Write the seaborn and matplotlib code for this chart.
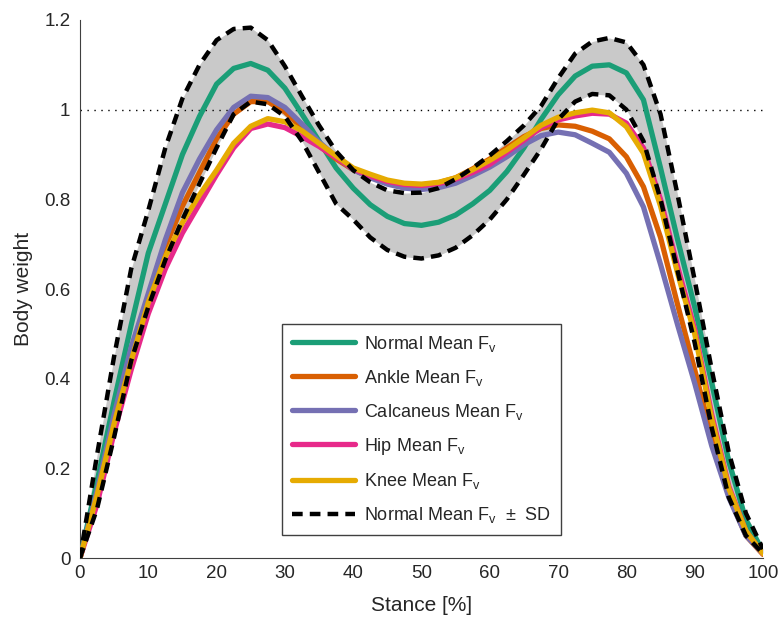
import matplotlib
matplotlib.use('Agg')
import matplotlib.pyplot as plt
import seaborn as sns
from matplotlib.lines import Line2D
from matplotlib.ticker import FormatStrFormatter

# Stance phase [%] and vertical force (body weight)
stance = [0, 2.5, 5, 7.5, 10, 12.5, 15, 17.5, 20, 22.5, 25, 27.5, 30, 32.5, 35, 37.5,
          40, 42.5, 45, 47.5, 50, 52.5, 55, 57.5, 60, 62.5, 65, 67.5, 70, 72.5, 75,
          77.5, 80, 82.5, 85, 87.5, 90, 92.5, 95, 97.5, 100]

normal_mean = [0.0, 0.17, 0.35, 0.52, 0.68, 0.79, 0.90, 0.985, 1.057, 1.092, 1.103,
               1.088, 1.048, 0.99, 0.93, 0.87, 0.825, 0.788, 0.762, 0.746, 0.742,
               0.749, 0.765, 0.79, 0.82, 0.862, 0.915, 0.978, 1.033, 1.075, 1.097,
               1.10, 1.082, 1.022, 0.87, 0.71, 0.56, 0.39, 0.215, 0.085, 0.015]

normal_upper = [0.0, 0.23, 0.45, 0.645, 0.775, 0.915, 1.025, 1.10, 1.155, 1.18, 1.183,
                1.155, 1.097, 1.03, 0.965, 0.907, 0.865, 0.838, 0.82, 0.814, 0.815,
                0.825, 0.845, 0.87, 0.898, 0.93, 0.965, 1.008, 1.07, 1.125, 1.152,
                1.16, 1.15, 1.10, 0.99, 0.81, 0.62, 0.42, 0.235, 0.10, 0.02]

normal_lower = [0.0, 0.11, 0.27, 0.44, 0.56, 0.665, 0.755, 0.835, 0.915, 0.99, 1.018,
                1.012, 0.985, 0.93, 0.86, 0.79, 0.755, 0.715, 0.687, 0.672, 0.668,
                0.675, 0.692, 0.72, 0.755, 0.80, 0.855, 0.912, 0.978, 1.018, 1.035,
                1.032, 1.0, 0.93, 0.80, 0.64, 0.48, 0.29, 0.135, 0.05, 0.01]

ankle_mean = [0.0, 0.14, 0.30, 0.45, 0.575, 0.695, 0.785, 0.86, 0.935, 0.99, 1.018,
              1.018, 0.995, 0.96, 0.92, 0.89, 0.866, 0.85, 0.838, 0.832, 0.832,
              0.837, 0.848, 0.868, 0.89, 0.915, 0.94, 0.958, 0.966, 0.963, 0.952,
              0.935, 0.895, 0.828, 0.715, 0.565, 0.42, 0.27, 0.14, 0.05, 0.008]

calcaneus_mean = [0.0, 0.15, 0.32, 0.47, 0.59, 0.71, 0.815, 0.89, 0.955, 1.005, 1.03,
                  1.027, 1.005, 0.968, 0.928, 0.895, 0.866, 0.848, 0.834, 0.825, 0.822,
                  0.826, 0.836, 0.853, 0.872, 0.895, 0.922, 0.942, 0.95, 0.944, 0.925,
                  0.905, 0.858, 0.783, 0.655, 0.52, 0.39, 0.25, 0.135, 0.05, 0.01]

hip_mean = [0.0, 0.12, 0.28, 0.42, 0.545, 0.645, 0.725, 0.79, 0.855, 0.915, 0.958,
            0.968, 0.96, 0.94, 0.918, 0.893, 0.868, 0.852, 0.84, 0.833, 0.831,
            0.835, 0.845, 0.86, 0.878, 0.905, 0.932, 0.96, 0.977, 0.986, 0.992,
            0.99, 0.97, 0.915, 0.80, 0.65, 0.51, 0.32, 0.16, 0.06, 0.01]

knee_mean = [0.0, 0.14, 0.30, 0.44, 0.57, 0.672, 0.748, 0.81, 0.865, 0.925, 0.963,
             0.98, 0.973, 0.953, 0.925, 0.897, 0.87, 0.856, 0.843, 0.836, 0.834,
             0.838, 0.848, 0.866, 0.887, 0.91, 0.937, 0.965, 0.983, 0.993, 0.999,
             0.993, 0.962, 0.903, 0.785, 0.635, 0.50, 0.31, 0.155, 0.06, 0.01]

series = [
    ('Normal', normal_mean, '#1b9e77'),
    ('Ankle', ankle_mean, '#d95f02'),
    ('Calcaneus', calcaneus_mean, '#7570b3'),
    ('Hip', hip_mean, '#e7298a'),
    ('Knee', knee_mean, '#e6ab02'),
]

sns.set_style('white')
plt.rcParams['font.family'] = ['Liberation Sans', 'DejaVu Sans']
plt.rcParams['mathtext.fontset'] = 'custom'
plt.rcParams['mathtext.rm'] = 'Liberation Sans'

fig = plt.figure(figsize=(7.78, 6.23), dpi=100)
ax = fig.add_axes([0.1028, 0.1043, 0.8779, 0.8636])

# SD band
ax.fill_between(stance, normal_lower, normal_upper, color='#c9c9c9', lw=0, zorder=1)
ax.axhline(1, color='black', lw=1, linestyle=(0, (1, 4)), zorder=2)

for name, vals, col in series:
    sns.lineplot(x=stance, y=vals, color=col, lw=3.8, ax=ax, zorder=3,
                 solid_joinstyle='round', solid_capstyle='round')

dash = (0, (2.4, 1.6))
for vals in (normal_upper, normal_lower):
    sns.lineplot(x=stance, y=vals, color='black', lw=3.2, linestyle=dash, ax=ax,
                 zorder=4, dash_joinstyle='round')

ax.set_xlim(0, 100)
ax.set_ylim(0, 1.2)
ax.set_xticks(range(0, 101, 10))
ax.set_yticks([0, 0.2, 0.4, 0.6, 0.8, 1.0, 1.2])
ax.yaxis.set_major_formatter(FormatStrFormatter('%g'))
ax.tick_params(direction='in', length=6, width=0.8, color='#404040', labelsize=13.5)
ax.tick_params(axis='y', pad=7)
ax.tick_params(axis='x', pad=5)
ax.set_xlabel('Stance [%]', fontsize=15, labelpad=10)
ax.set_ylabel('Body weight', fontsize=15, labelpad=8)

sns.despine(ax=ax)
for side in ('left', 'bottom'):
    ax.spines[side].set_color('#404040')
    ax.spines[side].set_linewidth(0.8)

handles = [Line2D([], [], color=col, lw=3.8) for _, _, col in series]
labels = [name + r' Mean F$_\mathregular{v}$' for name, _, _ in series]
handles.append(Line2D([], [], color='black', lw=3.2, linestyle=dash))
labels.append(r'Normal Mean F$_\mathregular{v}$  ±  SD')

leg = ax.legend(handles, labels, loc='lower center', bbox_to_anchor=(0.5, 0.043),
                borderaxespad=0, fontsize=13, handlelength=3.5, handletextpad=0.45,
                labelspacing=0.78, borderpad=0.55, fancybox=False, framealpha=1,
                edgecolor='#404040')
leg.get_frame().set_linewidth(1)

fig.savefig('out.png', dpi=100)
